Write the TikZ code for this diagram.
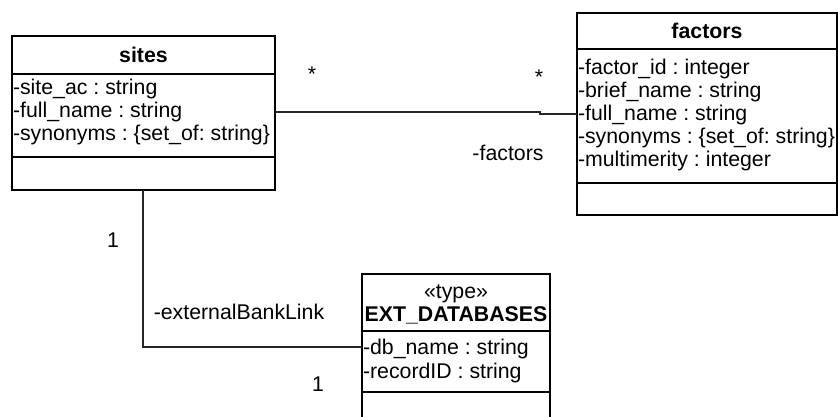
\documentclass[tikz,border=0pt]{standalone}
\usepackage{fontspec}
\setmainfont{Liberation Sans}
\frenchspacing
\begin{document}
\begin{tikzpicture}[x=1pt,y=-1pt,
  every node/.style={font=\fontsize{21.3}{23.5}\selectfont\frenchspacing, inner sep=0pt, outer sep=0pt},
  classbox/.style={draw=black, line width=1.5pt, rectangle, anchor=north west},
  sepline/.style={draw=black, line width=1.5pt},
  row/.style={anchor=base west},
  ttl/.style={anchor=base, font=\fontsize{21.3}{23.5}\selectfont\bfseries},
  lbl/.style={anchor=center},
  conn/.style={draw=black!85, line width=1.1pt}]
\useasboundingbox (0,0) rectangle (838,416);

% ---- sites ----
\node[classbox, minimum width=263pt, minimum height=154pt] (sites) at (12,36) {};
\draw[sepline] (12,74) -- (275,74);
\draw[sepline] (12,157) -- (275,157);
\node[ttl] (sitesT) at (143.5,62) {sites};
\node[row] (s1) at (13,94) {-site\_ac : string};
\node[row] (s2) at (13,117) {-full\_name : string};
\node[row] (s3) at (13,140) {-synonyms : \{set\_of: string\}};

% ---- factors ----
\node[classbox, minimum width=260pt, minimum height=202pt] (factors) at (577,13) {};
\draw[sepline] (577,49) -- (837,49);
\draw[sepline] (577,183) -- (837,183);
\node[ttl] (factorsT) at (707,38) {factors};
\node[row] (f1) at (578,74) {-factor\_id : integer};
\node[row] (f2) at (578,97) {-brief\_name : string};
\node[row] (f3) at (578,120) {-full\_name : string};
\node[row] (f4) at (578,143) {-synonyms : \{set\_of: string\}};
\node[row] (f5) at (578,166) {-multimerity : integer};

% ---- EXT_DATABASES ----
\node[classbox, minimum width=188pt, minimum height=160pt] (ext) at (362,274) {};
\draw[sepline] (362,331) -- (550,331);
\draw[sepline] (362,392) -- (550,392);
\node[anchor=base] (extS) at (456,298) {«type»};
\node[ttl] (extT) at (456,321) {EXT\_DATABASES};
\node[row] (e1) at (363,354) {-db\_name : string};
\node[row] (e2) at (363,378) {-recordID : string};

% ---- connectors ----
\coordinate (sa) at (sites.north east |- 0,112);
\coordinate (fa) at (factors.north west |- 0,114);
\draw[conn] (sa) -- (540,112) -- (540,114) -- (fa);
\coordinate (sb) at (143,190);
\coordinate (ea) at (ext.north west |- 0,347);
\draw[conn] (sb) -- (143,347) -- (ea);

% ---- labels ----
\node[lbl] (m1) at (312,74) {*};
\node[lbl] (m2) at (539,77) {*};
\node[lbl] (r1) at (508,153) {-factors};
\node[lbl] (m3) at (113,240) {1};
\node[lbl] (r2) at (239,312) {-externalBankLink};
\node[lbl] (m4) at (318,384) {1};
\end{tikzpicture}
\end{document}
